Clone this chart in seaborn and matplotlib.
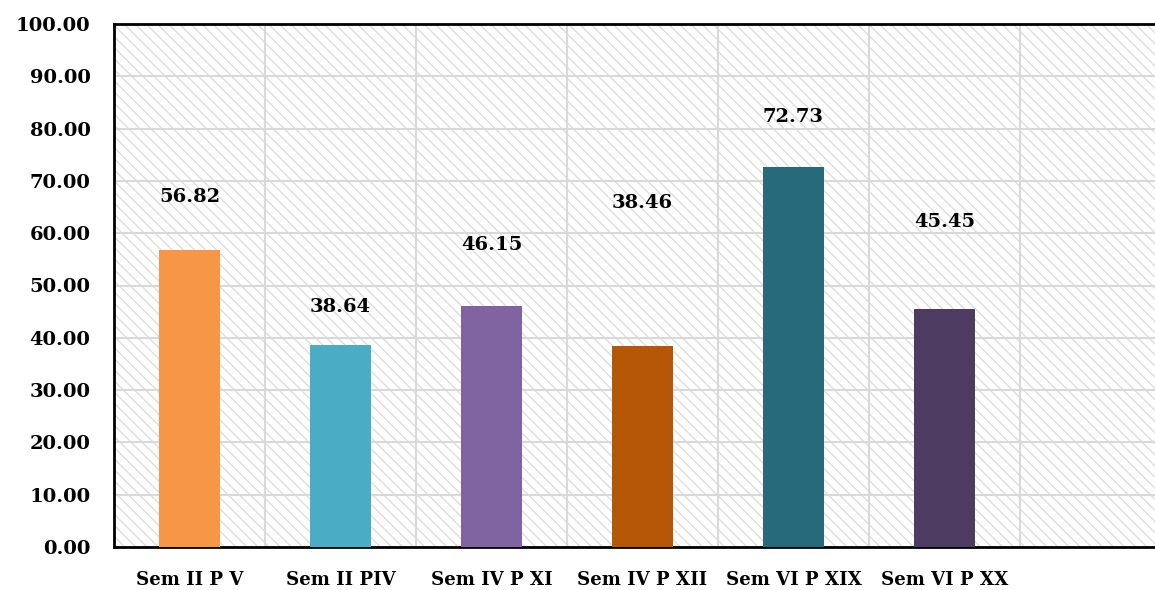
import matplotlib
matplotlib.use("Agg")
import matplotlib.pyplot as plt
import seaborn as sns
import pandas as pd
from matplotlib.patches import Rectangle

categories = ["Sem II P V", "Sem II PIV", "Sem IV P XI", "Sem IV P XII", "Sem VI P XIX", "Sem VI P XX"]
values = [56.82, 38.64, 46.15, 38.46, 72.73, 45.45]
label_texts = ["56.82", "38.64", "46.15", "38.46", "72.73", "45.45"]
label_y = [66.9, 45.9, 57.7, 65.8, 82.2, 62.1]
colors = ["#F79646", "#4BACC6", "#8064A2", "#B65708", "#276A7C", "#4D3B62"]
yticks = [0, 10, 20, 30, 40, 50, 60, 70, 80, 90, 100]

sns.set_theme(style="white")
plt.rcParams['font.family'] = ['DejaVu Serif']
plt.rcParams['hatch.linewidth'] = 1.0
plt.rcParams['hatch.color'] = '#DEDEDE'

fig = plt.figure(figsize=(11.55, 5.9), dpi=100)
ax = fig.add_axes([114/1155, 1 - 547/590, (1155 - 114)/1155, (547 - 24)/590])

df = pd.DataFrame({"cat": categories, "val": values})
sns.barplot(data=df, x="cat", y="val", hue="cat", palette=colors, legend=False,
            width=0.40, ax=ax, zorder=3, saturation=1, linewidth=0)

# hatched background
bg = Rectangle((0, 0), 1, 1, transform=ax.transAxes, facecolor='white',
               edgecolor='#DEDEDE', hatch='\\\\\\', linewidth=0, zorder=0)
ax.add_patch(bg)

ax.set_yticks(yticks)
ax.set_yticklabels([f"{v:.2f}" for v in yticks], fontsize=14, fontweight='bold', color='black')
ax.set_xticks(range(len(categories)))
ax.set_xticklabels(categories, fontsize=13.1, fontweight='bold', color='black')
ax.set_xticks([i - 0.5 for i in range(8)], minor=True)
ax.tick_params(axis='both', which='both', length=0)
ax.tick_params(axis='x', pad=17)
ax.tick_params(axis='y', pad=17)

ax.grid(False)
ax.yaxis.grid(True, color='#D9D9D9', linewidth=1.5, zorder=1)
ax.xaxis.grid(True, which='minor', color='#D9D9D9', linewidth=1.5, zorder=1)
ax.set_axisbelow(True)

for i, (t, y) in enumerate(zip(label_texts, label_y)):
    ax.text(i, y, t, ha='center', va='center', fontsize=14, fontweight='bold', color='black', zorder=4)

for s in ['left', 'bottom', 'top']:
    ax.spines[s].set_visible(True)
    ax.spines[s].set_color('black')
    ax.spines[s].set_linewidth(2)
ax.spines['right'].set_visible(False)

ax.set_xlabel("")
ax.set_ylabel("")

ax.set_xlim(-0.5, -0.5 + (1155 - 114) / 151)
ax.set_ylim(0, 100)

fig.savefig("out.png", dpi=100)
